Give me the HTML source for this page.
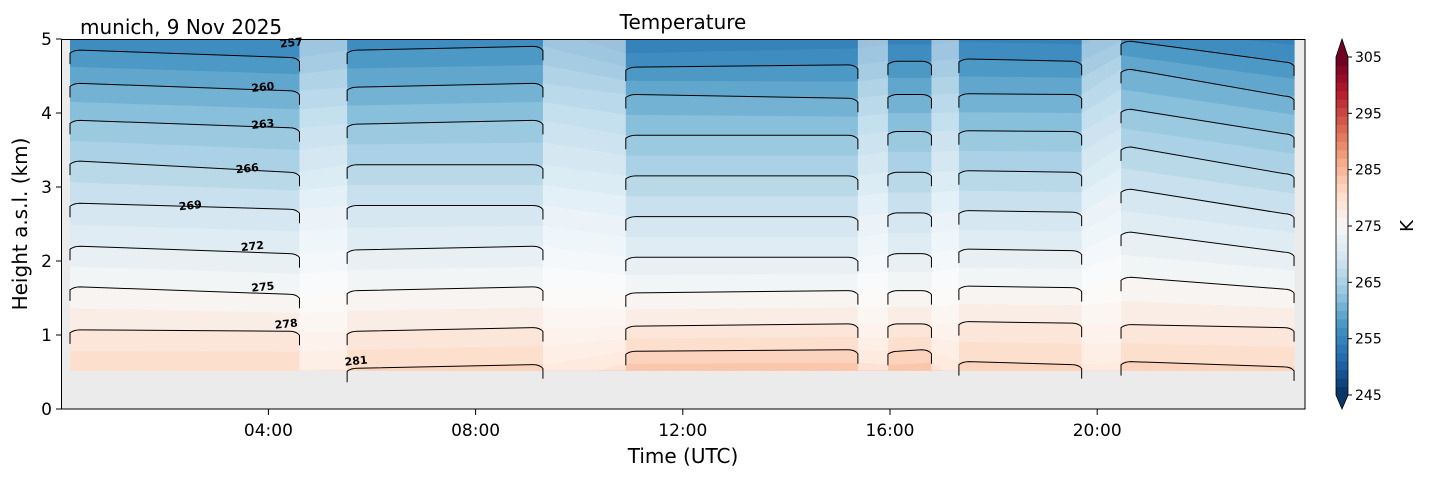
<!DOCTYPE html>
<html><head><meta charset="utf-8"><style>
body{margin:0;background:#fff;font-family:"DejaVu Sans","Liberation Sans",sans-serif;}
#wrap{position:relative;width:1429px;height:478px;overflow:hidden;}
</style></head><body>
<div id="wrap">
<svg id="svg" width="1429" height="478" xmlns="http://www.w3.org/2000/svg" font-family="DejaVu Sans, Liberation Sans, sans-serif"></svg>
</div>
<script>
// ---- data ----
const contourLevels = [257,260,263,266,269,272,275,278,281];
const segStart = [0.17, 5.52, 10.9, 15.96, 17.33, 20.46];
const segEnd   = [4.6, 9.3, 15.38, 16.8, 19.7, 23.8];
const hStart = [
 [4.85,4.4,3.9,3.35,2.78,2.2,1.65,1.07,0.5],
 [4.85,4.35,3.85,3.3,2.75,2.15,1.6,1.05,0.55],
 [4.62,4.25,3.7,3.15,2.6,2.05,1.57,1.12,0.78],
 [4.7,4.25,3.75,3.2,2.65,2.1,1.6,1.15,0.78],
 [4.73,4.26,3.76,3.22,2.68,2.16,1.66,1.18,0.64],
 [4.97,4.59,4.05,3.54,2.97,2.39,1.78,1.14,0.64]];
const hEnd = [
 [4.75,4.3,3.8,3.2,2.7,2.1,1.55,1.05,0.5],
 [4.9,4.4,3.9,3.3,2.75,2.2,1.65,1.1,0.6],
 [4.65,4.2,3.7,3.15,2.6,2.05,1.6,1.15,0.8],
 [4.7,4.25,3.75,3.2,2.65,2.1,1.6,1.15,0.8],
 [4.7,4.25,3.75,3.2,2.66,2.14,1.64,1.16,0.6],
 [4.69,4.23,3.72,3.18,2.64,2.12,1.62,1.1,0.57]];
const xTickLabels = ["04:00","08:00","12:00","16:00","20:00"];
const xTickHours = [4,8,12,16,20];
const yTicks = [0,1,2,3,4,5];
const cbTicks = [245,255,265,275,285,295,305];
const labelSpots = [[4.45,4.9],[3.9,4.3],[3.9,3.8],[3.6,3.2],[2.5,2.7],[3.7,2.15],[3.9,1.6],[4.35,1.1],[5.7,0.6]];

// ---- axes ----
const X0=61.2, XS=51.8, Y0=409, YS=74;
const xs=t=>X0+XS*t, ys=h=>Y0-YS*h;
const CBX=1336, CBW=12, cbY=T=>395-(T-245)*(338/60);
const NS='http://www.w3.org/2000/svg', svg=document.getElementById('svg');
function el(tag,attrs,parent){const e=document.createElementNS(NS,tag);for(const k in attrs)e.setAttribute(k,attrs[k]);(parent||svg).appendChild(e);return e;}

const rdbu=["#053061","#2166ac","#4393c3","#92c5de","#d1e5f0","#f7f7f7","#fddbc7","#f4a582","#d6604d","#b2182b","#67001f"];
function hex(c){return [1,3,5].map(i=>parseInt(c.substr(i,2),16));}
function cmap(f){f=Math.max(0,Math.min(1,f));const p=f*10,i=Math.min(9,Math.floor(p)),r=p-i;const a=hex(rdbu[i]),b=hex(rdbu[i+1]);return 'rgb('+a.map((v,j)=>Math.round(v+(b[j]-v)*r)).join(',')+')';}
const bandColor=k=>cmap((k+0.5)/40);

el('rect',{x:61.5,y:39,width:1243.5,height:370,fill:'#ebebeb'});

function profileAt(t){
  for(let s=0;s<segStart.length;s++){
    if(t>=segStart[s]&&t<=segEnd[s]){const r=(t-segStart[s])/(segEnd[s]-segStart[s]);return {h:contourLevels.map((_,i)=>hStart[s][i]+(hEnd[s][i]-hStart[s][i])*r),gap:false};}
  }
  for(let s=0;s<segStart.length-1;s++){
    if(t>segEnd[s]&&t<segStart[s+1]){const r=(t-segEnd[s])/(segStart[s+1]-segEnd[s]);return {h:contourLevels.map((_,i)=>hEnd[s][i]+(hStart[s+1][i]-hEnd[s][i])*r),gap:true};}
  }
  return null;
}
function heightOfT(T,h){
  const L=contourLevels;let i=0;
  if(T>=L[L.length-1]) i=L.length-2; else if(T<=L[0]) i=0; else {for(i=0;i<L.length-1;i++) if(T<=L[i+1]&&T>=L[i]) break;}
  return h[i]+(T-L[i])*(h[i+1]-h[i])/(L[i+1]-L[i]);
}
const fillG=el('g',{});
const tA=segStart[0], tB=segEnd[segEnd.length-1], step=3/XS;
for(let t=tA;t<tB;t+=step){
  const p=profileAt(t+step/2); if(!p) continue;
  const x=xs(t), w=XS*step+0.6;
  for(let k=0;k<40;k++){
    let hb=heightOfT(245+1.5*k,p.h), ht=heightOfT(245+1.5*(k+1),p.h);
    let lo=Math.max(0.52,Math.min(hb,ht)), hi=Math.min(5,Math.max(hb,ht));
    if(k===0) hi=5; if(k===39) lo=0.52;
    if(hi<=lo) continue;
    el('rect',{x:x.toFixed(1),y:ys(hi).toFixed(1),width:w.toFixed(1),height:(YS*(hi-lo)+0.4).toFixed(1),fill:bandColor(k)},fillG);
  }
}
for(let s=0;s<segStart.length-1;s++){
  const r=el('rect',{x:xs(segEnd[s]),y:39,width:xs(segStart[s+1])-xs(segEnd[s]),height:ys(0.52)-39,fill:'#fff','fill-opacity':0.5});
  
}
for(let s=0;s<segStart.length;s++){
  for(let i=0;i<contourLevels.length;i++){
    const x1=xs(segStart[s]),x2=xs(segEnd[s]),y1=ys(hStart[s][i]),y2=ys(hEnd[s][i]);
    if(hStart[s][i]<0.52) continue;
    const l=el('path',{d:`M${x1},${y1+14} L${x1},${y1+3} Q${x1+4},${y1} ${x1+10},${y1} L${x2-10},${y2} Q${x2-3},${y2} ${x2},${y2+4} L${x2},${y2+14}`,fill:'none',stroke:'#000','stroke-width':1});
    
  }
}
contourLevels.forEach((L,i)=>{
  const t=el('text',{x:xs(labelSpots[i][0]),y:ys(labelSpots[i][1]),'font-size':11,'font-weight':'bold','text-anchor':'middle',transform:`rotate(-6 ${xs(labelSpots[i][0])} ${ys(labelSpots[i][1])})`});
  t.textContent=L;
});
el('rect',{x:61.5,y:39.5,width:1243.5,height:369.5,fill:'none',stroke:'#000','stroke-width':1});
xTickHours.forEach((h,i)=>{
  el('line',{x1:xs(h),x2:xs(h),y1:409,y2:415,stroke:'#000'});
  const t=el('text',{x:xs(h),y:436,'font-size':17,'text-anchor':'middle'});t.textContent=xTickLabels[i];
  
});
yTicks.forEach(v=>{
  el('line',{x1:56,x2:61.5,y1:ys(v),y2:ys(v),stroke:'#000'});
  const t=el('text',{x:52,y:ys(v)+6,'font-size':17,'text-anchor':'end'});t.textContent=v;
  
});
function txt(s,a,name){const t=el('text',a);t.textContent=s;return t;}
txt('Temperature',{x:683,y:29,'font-size':20,'text-anchor':'middle'},'chart-title');
txt('munich, 9 Nov 2025',{x:80,y:34,'font-size':20},'location-date-label');
txt('Time (UTC)',{x:683,y:463,'font-size':20,'text-anchor':'middle'},'x-axis-title');
txt('Height a.s.l. (km)',{x:27,y:224,'font-size':20,'text-anchor':'middle',transform:'rotate(-90 27 224)'},'y-axis-title');
const cb=el('g',{});
for(let k=0;k<40;k++){el('rect',{x:CBX,y:cbY(245+1.5*(k+1)),width:CBW,height:338/40+0.4,fill:bandColor(k)},cb);}
el('polygon',{points:`${CBX},${cbY(305)} ${CBX+CBW/2},39 ${CBX+CBW},${cbY(305)}`,fill:bandColor(39)},cb);
el('polygon',{points:`${CBX},${cbY(245)} ${CBX+CBW/2},409 ${CBX+CBW},${cbY(245)}`,fill:bandColor(0)},cb);
el('path',{d:`M${CBX},${cbY(305)} L${CBX+CBW/2},39 L${CBX+CBW},${cbY(305)} L${CBX+CBW},${cbY(245)} L${CBX+CBW/2},409 L${CBX},${cbY(245)} Z`,fill:'none',stroke:'#000','stroke-width':0.8},cb);
cbTicks.forEach(v=>{
  el('line',{x1:CBX+CBW,x2:CBX+CBW+4,y1:cbY(v),y2:cbY(v),stroke:'#000'},cb);
  const t=el('text',{x:CBX+CBW+7,y:cbY(v)+5,'font-size':14},cb);t.textContent=v;
  
});
txt('K',{x:1413,y:226,'font-size':18,'text-anchor':'middle',transform:'rotate(-90 1413 226)'},'colorbar-label');
</script>
</body></html>
